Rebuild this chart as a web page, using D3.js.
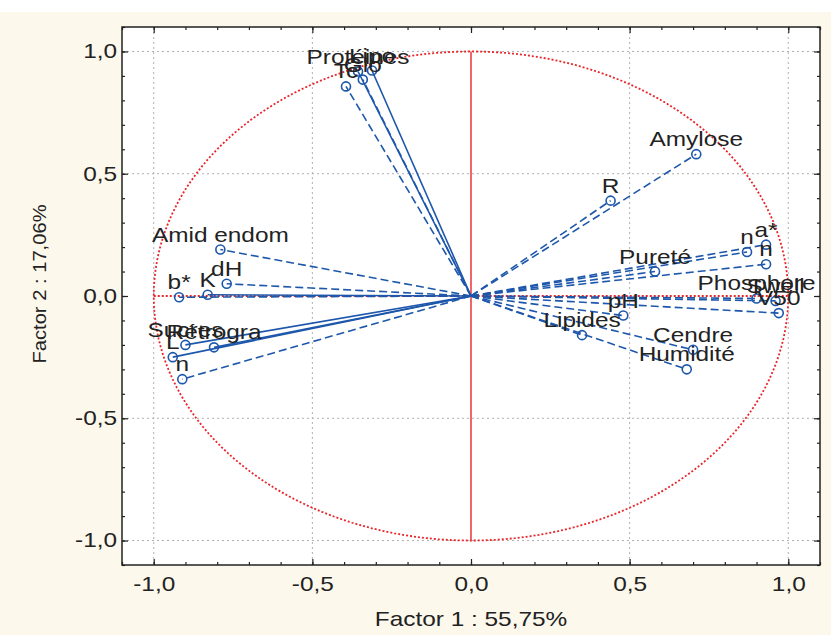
<!DOCTYPE html>
<html><head><meta charset="utf-8">
<script src="https://cdn.jsdelivr.net/npm/d3@7"></script>
<style>body{margin:0;background:#fdf8ec}svg{display:block}</style>
</head><body><svg id="c" width="831" height="635"></svg>
<script>
// Variable names and their coordinates on Factor 1 / Factor 2
const varNames = ["Protéines","Tc","Glo","Lipo","Amylose","R","a*","n","n","Pureté",
  "Phosphore","Swell","V50","pH","Lipides","Cendre","Humidité",
  "Amid endom","dH","b*","K","Sucres","Rétrogra","L","n"];
const factor1 = [-0.356,-0.394,-0.341,-0.312,0.71,0.44,0.93,0.87,0.93,0.58,
  0.90,0.96,0.97,0.48,0.35,0.70,0.68,
  -0.79,-0.77,-0.92,-0.83,-0.90,-0.81,-0.94,-0.91];
const factor2 = [0.918,0.857,0.885,0.922,0.58,0.39,0.21,0.18,0.13,0.10,
  -0.01,-0.02,-0.07,-0.08,-0.16,-0.22,-0.30,
  0.19,0.05,-0.005,0.005,-0.20,-0.21,-0.25,-0.34];
// indices of variables drawn with a solid vector (others dashed)
const solidVars = [0,3,20,21,22,23];
const majorTicks = [-1.0,-0.5,0.0,0.5,1.0];
const minorTicks = [-1.1,-1.0,-0.9,-0.8,-0.7,-0.6,-0.5,-0.4,-0.3,-0.2,-0.1,0,0.1,0.2,0.3,0.4,0.5,0.6,0.7,0.8,0.9,1.0,1.1];
const xTitle = "Factor 1 : 55,75%";
const yTitle = "Factor 2 : 17,06%";

const svg = d3.select("#c");
const W = 831, H = 635;
const L = 122, R = 820, T = 27, B = 565;
const x = d3.scaleLinear().domain([-1.1,1.1]).range([L,R]);
const y = d3.scaleLinear().domain([-1.1,1.1]).range([B,T]);
const FONT = "'Liberation Sans', Arial, sans-serif";
const FS = 20, SX = 1.22;
const blue = "#1d57ab", red = "#e8262b", txt = "#222";

svg.append("rect").attr("width",W).attr("height",H).attr("fill","#fdf8ec");
svg.append("rect").attr("width",W).attr("height",12).attr("fill","#ffffff");
svg.append("rect").attr("x",L).attr("y",T).attr("width",R-L).attr("height",B-T).attr("fill","#ffffff");

// grid
const grid = svg.append("g");
majorTicks.filter(v=>v!==0).forEach(v=>{
  grid.append("line").attr("x1",x(v)).attr("x2",x(v)).attr("y1",T).attr("y2",B)
    .attr("stroke","#b0b0b0").attr("stroke-width",1).attr("stroke-dasharray","2,3");
  grid.append("line").attr("y1",y(v)).attr("y2",y(v)).attr("x1",L).attr("x2",R)
    .attr("stroke","#b0b0b0").attr("stroke-width",1).attr("stroke-dasharray","2,3");
});

// unit circle & red axes
const circ = d3.range(0,361,2).map(a=>[Math.cos(a*Math.PI/180),Math.sin(a*Math.PI/180)]);
svg.append("path").attr("d",d3.line().x(d=>x(d[0])).y(d=>y(d[1]))(circ))
  .attr("fill","none").attr("stroke",red).attr("stroke-width",1.8).attr("stroke-dasharray","2,2");
svg.append("line").attr("x1",x(-1)).attr("x2",x(1)).attr("y1",y(0)).attr("y2",y(0))
  .attr("stroke",red).attr("stroke-width",1.8).attr("stroke-dasharray","2,2");
svg.append("line").attr("x1",x(0)).attr("x2",x(0)).attr("y1",y(1)).attr("y2",y(-1))
  .attr("stroke",red).attr("stroke-width",1.4);

// vectors
const data = varNames.map((n,i)=>({name:n,f1:factor1[i],f2:factor2[i],solid:solidVars.includes(i)}));
const vg = svg.append("g");
vg.selectAll("line").data(data).join("line")
  .attr("x1",x(0)).attr("y1",y(0)).attr("x2",d=>x(d.f1)).attr("y2",d=>y(d.f2))
  .attr("stroke",blue).attr("stroke-width",1.6)
  .attr("stroke-dasharray",d=>d.solid?null:"8,4");
vg.selectAll("circle").data(data).join("circle")
  .attr("cx",d=>x(d.f1)).attr("cy",d=>y(d.f2)).attr("r",4.5)
  .attr("fill","none").attr("stroke",blue).attr("stroke-width",1.6);
vg.selectAll("text").data(data).join("text")
  .attr("transform",d=>`translate(${x(d.f1)},${y(d.f2)-8}) scale(${SX},1)`)
  .attr("text-anchor","middle").attr("font-family",FONT).attr("font-size",FS)
  .attr("fill",txt).text(d=>d.name);

// axes (ticks inward on all four sides)
const fmt = d=>d3.format(".1f")(d).replace(".",",").replace("−","-");
function styleAxis(g){ g.select(".domain").remove(); g.selectAll("line").attr("stroke","#222").attr("stroke-width",1.2); }
svg.append("g").attr("transform",`translate(0,${B})`)
  .call(d3.axisBottom(x).tickValues(minorTicks).tickSize(-3).tickFormat(""))
  .call(styleAxis);
svg.append("g").attr("transform",`translate(0,${T})`)
  .call(d3.axisTop(x).tickValues(minorTicks).tickSize(-3).tickFormat(""))
  .call(styleAxis);
svg.append("g").attr("transform",`translate(${L},0)`)
  .call(d3.axisLeft(y).tickValues(minorTicks).tickSize(-3).tickFormat(""))
  .call(styleAxis);
svg.append("g").attr("transform",`translate(${R},0)`)
  .call(d3.axisRight(y).tickValues(minorTicks).tickSize(-3).tickFormat(""))
  .call(styleAxis);

const xa = svg.append("g").attr("transform",`translate(0,${B})`)
  .call(d3.axisBottom(x).tickValues(majorTicks).tickSize(-6).tickPadding(12).tickFormat(fmt))
  .call(styleAxis);
svg.append("g").attr("transform",`translate(0,${T})`)
  .call(d3.axisTop(x).tickValues(majorTicks).tickSize(-6).tickFormat(""))
  .call(styleAxis);
const ya = svg.append("g").attr("transform",`translate(${L},0)`)
  .call(d3.axisLeft(y).tickValues(majorTicks).tickSize(-6).tickPadding(4).tickFormat(fmt))
  .call(styleAxis);
svg.append("g").attr("transform",`translate(${R},0)`)
  .call(d3.axisRight(y).tickValues(majorTicks).tickSize(-6).tickFormat(""))
  .call(styleAxis);
[xa,ya].forEach(g=>g.selectAll("text").attr("font-family",FONT).attr("font-size",FS).attr("fill",txt)
  .attr("transform",`scale(${SX},1)`));

// border
svg.append("rect").attr("x",L).attr("y",T).attr("width",R-L).attr("height",B-T)
  .attr("fill","none").attr("stroke","#222").attr("stroke-width",1.5);

// axis titles
svg.append("text").attr("transform",`translate(${x(0)},626) scale(${SX},1)`)
  .attr("text-anchor","middle").attr("font-family",FONT).attr("font-size",FS).attr("fill",txt).text(xTitle);
svg.append("text").attr("transform",`translate(46,284) rotate(-90) scale(1.12,1)`)
  .attr("text-anchor","middle").attr("font-family",FONT).attr("font-size",18).attr("fill",txt).text(yTitle);
</script></body></html>
